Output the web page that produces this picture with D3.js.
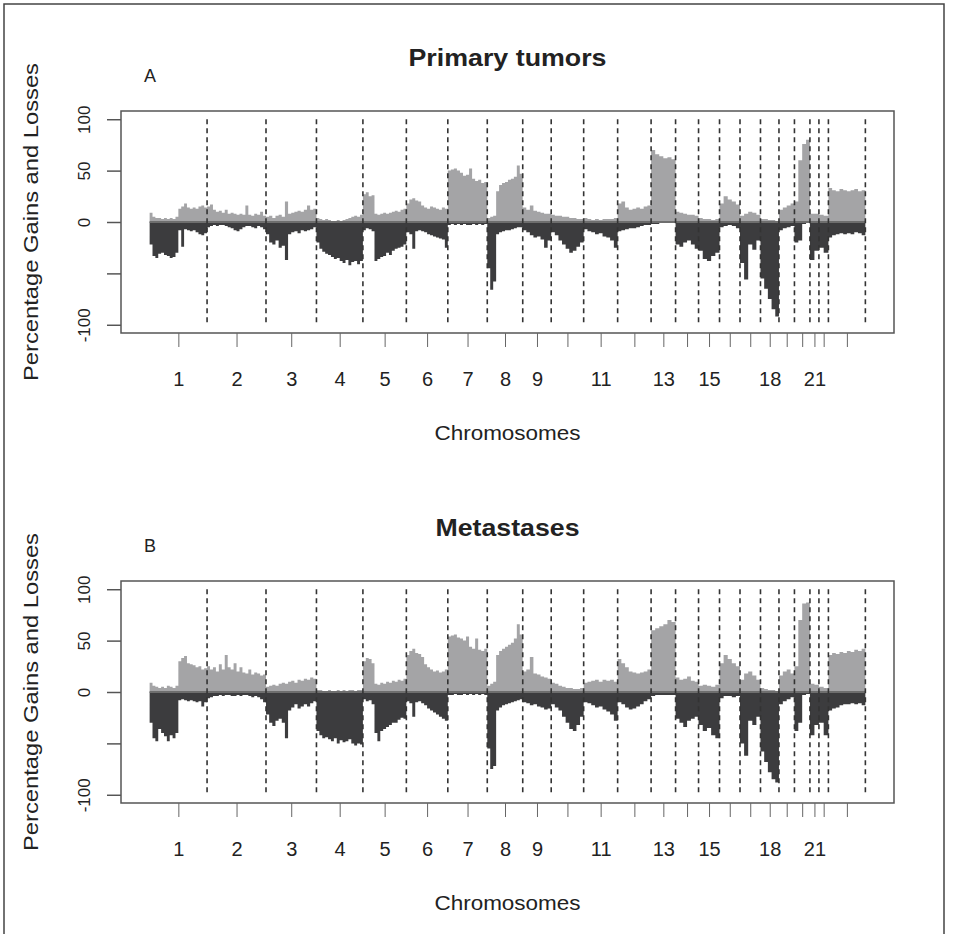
<!DOCTYPE html>
<html>
<head>
<meta charset="utf-8">
<script src="https://cdn.jsdelivr.net/npm/d3@7/dist/d3.min.js"></script>
<style>
body{margin:0;background:#fff}
svg text{font-family:"Liberation Sans",Arial,sans-serif;fill:#222}
</style>
</head>
<body>
<svg id="chart" width="954" height="934"></svg>
<script>
// chromosomes and number of clones on the array for each one
var chromosomes = ["1","2","3","4","5","6","7","8","9","10","11","12","13","14","15","16","17","18","19","20","21","22","X"]
var cloneCounts = [115,118,101,93,87,83,79,71,57,65,68,67,49,46,42,41,41,37,31,31,18,19,74]
// labels R managed to print under the ticks
var tickLabels = ["1","2","3","4","5","6","7","8","9","11","13","15","18","21"]
var yTicks = [-100,-50,0,50,100]
var yTickLabels = ["-100","","0","50","100"]

// percentage of gains / losses along each chromosome
var primaryGains = [
  [9,5,4,4,3,4,3,4,3,5,13,15,18,14,13,14,13,15,16,14],
  [15,17,12,10,11,9,12,8,9,8,7,8,7,16,7,6,8,7,10,6],
  [5,6,4,6,7,5,20,8,9,10,11,10,12,16,12,13],
  [4,3,2,3,2,1,1,2,1,2,3,4,5,6,5,7],
  [27,29,25,26,8,7,8,9,8,9,10,11,10,12,13],
  [18,22,23,21,20,16,14,13,15,14,13,12,14,13],
  [50,51,52,50,48,45,46,52,42,40,41,38,39],
  [4,5,6,30,36,38,39,41,42,44,55,47],
  [14,12,16,11,10,9,8,8],
  [7,6,6,5,5,4,4,3,3],
  [4,3,2,3,2,3,3,3,4],
  [18,20,14,12,13,14,13,15,16],
  [70,66,64,62,63,61],
  [10,9,8,7,7,6],
  [4,3,3,2,3],
  [18,25,22,20,17],
  [6,8,10,9,7],
  [3,3,2,2,1],
  [12,14,16,18],
  [20,60,76,80],
  [8,8],
  [7,6],
  [33,31,30,32,31,30,31,32,30,31]
]
var primaryLosses = [
  [-22,-33,-35,-31,-30,-32,-33,-35,-34,-30,-8,-24,-7,-8,-9,-8,-10,-12,-13,-11],
  [-5,-4,-3,-4,-3,-3,-4,-5,-6,-8,-9,-7,-5,-4,-4,-5,-6,-4,-5,-7],
  [-12,-20,-22,-18,-25,-23,-37,-12,-10,-9,-11,-8,-9,-8,-7,-5],
  [-20,-26,-29,-31,-32,-34,-36,-35,-38,-40,-37,-42,-39,-38,-41,-38],
  [-8,-6,-7,-9,-38,-36,-34,-33,-30,-32,-28,-26,-25,-24,-22],
  [-10,-12,-26,-9,-8,-9,-10,-12,-13,-14,-15,-16,-17,-25],
  [-3,-2,-3,-2,-3,-2,-3,-3,-2,-3,-2,-3,-2],
  [-45,-66,-58,-12,-10,-9,-8,-8,-7,-6,-5,-5],
  [-8,-10,-13,-15,-14,-17,-25,-18],
  [-10,-13,-18,-22,-26,-30,-28,-24,-20],
  [-7,-9,-10,-12,-11,-14,-15,-18,-25],
  [-9,-8,-7,-6,-6,-5,-4,-3,-3],
  [-2,-2,-1,-1,-1,-1],
  [-22,-24,-20,-18,-22,-26],
  [-28,-36,-38,-33,-30],
  [-5,-4,-3,-4,-6],
  [-40,-56,-22,-27,-18],
  [-55,-65,-75,-85,-92],
  [-8,-6,-5,-4],
  [-20,-18,-2,-1],
  [-37,-28],
  [-25,-30],
  [-15,-13,-12,-11,-12,-11,-12,-10,-11,-13]
]
var metaGains = [
  [9,6,5,4,5,4,6,5,4,6,30,33,35,28,27,26,24,25,22,23],
  [25,22,24,20,27,22,36,24,22,28,20,24,19,18,22,17,19,18,16,17],
  [5,6,7,6,8,9,8,10,11,9,12,11,13,12,14,13],
  [2,2,1,1,2,1,1,2,1,2,1,2,2,1,2,2],
  [30,33,32,28,8,7,9,8,10,9,11,10,12,11,13],
  [36,40,42,38,37,34,27,24,22,20,21,19,20,22],
  [54,55,56,53,52,50,54,44,42,52,41,40,42],
  [6,8,10,36,40,42,44,46,48,52,66,56],
  [20,22,34,18,17,15,14,13],
  [9,8,6,5,4,4,3,3,4],
  [9,10,11,12,10,12,11,12,10],
  [32,28,24,20,19,18,19,20,22],
  [60,62,64,66,70,68],
  [14,12,13,15,11,10],
  [6,7,6,5,7],
  [28,36,32,28,25],
  [12,18,20,16,12],
  [4,3,2,2,1],
  [16,20,22,18],
  [25,70,86,87],
  [8,7],
  [5,4],
  [36,38,37,39,38,40,39,41,40,42]
]
var metaLosses = [
  [-30,-45,-48,-36,-40,-43,-48,-42,-45,-40,-8,-7,-8,-9,-8,-9,-10,-9,-14,-10],
  [-6,-5,-4,-4,-3,-4,-3,-3,-4,-4,-3,-4,-3,-3,-4,-5,-4,-5,-7,-10],
  [-22,-30,-33,-28,-26,-30,-45,-18,-15,-12,-16,-14,-12,-14,-11,-9],
  [-38,-42,-45,-44,-46,-48,-45,-50,-47,-49,-48,-46,-50,-52,-50,-51],
  [-7,-9,-8,-12,-40,-48,-38,-36,-34,-32,-30,-30,-27,-25,-26],
  [-9,-11,-24,-10,-9,-11,-13,-16,-18,-20,-22,-24,-26,-28],
  [-3,-3,-2,-3,-3,-2,-3,-2,-3,-2,-3,-2,-3],
  [-55,-75,-72,-18,-15,-13,-12,-11,-10,-9,-8,-7],
  [-10,-11,-13,-12,-14,-15,-17,-16],
  [-12,-15,-18,-24,-30,-36,-38,-32,-24],
  [-10,-11,-13,-15,-14,-17,-19,-22,-28],
  [-10,-12,-15,-17,-16,-14,-12,-9,-7],
  [-4,-3,-3,-3,-3,-3],
  [-26,-30,-34,-28,-26,-24],
  [-32,-38,-35,-42,-45],
  [-6,-4,-4,-5,-4],
  [-50,-62,-28,-32,-24],
  [-58,-68,-78,-85,-88],
  [-12,-9,-7,-5],
  [-38,-30,-3,-2],
  [-42,-32],
  [-30,-42],
  [-18,-16,-15,-13,-12,-12,-11,-12,-11,-13]
]

var svg = d3.select("#chart")
var plotLeft = 121, plotRight = 894, plotH = 222

var panels = [
  {title:"Primary tumors", titleWidth:198, letter:"A", top:111, gains:primaryGains, losses:primaryLosses},
  {title:"Metastases", titleWidth:144, letter:"B", top:581, gains:metaGains, losses:metaLosses}
]

var starts = [0]
cloneCounts.forEach(function(n,i){ starts.push(starts[i]+n) })
var total = starts[starts.length-1]
var mids = cloneCounts.map(function(n,i){ return starts[i]+n/2 })

// R style 4% extension of the range
var x = d3.scaleLinear()
  .domain([-total*0.04, total*1.04])
  .range([plotLeft, plotRight])

// turn per-chromosome value lists into step points
var stepPoints = function(series)
{
  var pts = []
  series.forEach(function(vals,i){
    var n = cloneCounts[i], s = starts[i], k = vals.length
    vals.forEach(function(v,j){
      pts.push({pos:s+n*j/k, v:v})
      pts.push({pos:s+n*(j+1)/k, v:v})
    })
  })
  return pts
}

// outer frame of the figure
svg.append("path")
  .attr("d","M4,934V4H944V934")
  .attr("fill","none")
  .attr("stroke","#444")
  .attr("stroke-width",1.5)

panels.forEach(function(p)
{
  var y = d3.scaleLinear()
    .domain([-108,108])
    .range([p.top+plotH, p.top])

  var g = svg.append("g")

  var area = d3.area()
    .x(function(d){ return x(d.pos) })
    .y0(y(0))
    .y1(function(d){ return y(d.v) })

  g.append("path")
    .datum(stepPoints(p.gains))
    .attr("d",area)
    .attr("fill","#a4a4a6")

  g.append("path")
    .datum(stepPoints(p.losses))
    .attr("d",area)
    .attr("fill","#3c3c3e")

  // zero line
  g.append("line")
    .attr("x1",x(0)).attr("x2",x(total))
    .attr("y1",y(0)).attr("y2",y(0))
    .attr("stroke","#6e6e6e")
    .attr("stroke-width",2)

  // chromosome borders
  g.selectAll(".border")
    .data(starts.slice(1))
    .enter()
    .append("line")
    .attr("class","border")
    .attr("x1",function(d){ return x(d) })
    .attr("x2",function(d){ return x(d) })
    .attr("y1",y(100))
    .attr("y2",y(-100))
    .attr("stroke","#333")
    .attr("stroke-width",1.6)
    .attr("stroke-dasharray","5,4")

  // box
  g.append("rect")
    .attr("x",plotLeft).attr("y",p.top)
    .attr("width",plotRight-plotLeft).attr("height",plotH)
    .attr("fill","none")
    .attr("stroke","#555")
    .attr("stroke-width",1.5)

  // y axis
  var yAxis = g.append("g")
    .attr("transform","translate("+plotLeft+",0)")
    .call(d3.axisLeft(y).tickValues(yTicks).tickSize(14)
      .tickFormat(function(d,i){ return yTickLabels[i] }))
  yAxis.select(".domain").remove()
  yAxis.selectAll(".tick line").attr("stroke","#555").attr("stroke-width",1.5)
  yAxis.selectAll(".tick text")
    .attr("x",null).attr("dy",null)
    .attr("transform","translate(-31,0) rotate(-90)")
    .attr("text-anchor","middle")
    .style("font-size","17px")
    .attr("fill","#222")

  // x axis
  var xAxis = g.append("g")
    .attr("transform","translate(0,"+(p.top+plotH)+")")
    .call(d3.axisBottom(x).tickValues(mids).tickSize(14)
      .tickFormat(function(d,i){ return tickLabels.indexOf(chromosomes[i])>=0 ? chromosomes[i] : "" }))
  xAxis.select(".domain").remove()
  xAxis.selectAll(".tick line").attr("stroke","#666").attr("stroke-width",1)
  xAxis.selectAll(".tick text")
    .attr("y",53).attr("dy",null)
    .style("font-size","20px")
    .attr("fill","#222")

  // titles and labels
  g.append("text")
    .attr("x",(plotLeft+plotRight)/2)
    .attr("y",p.top-45)
    .attr("text-anchor","middle")
    .style("font-size","24px")
    .style("font-weight","bold")
    .attr("textLength",p.titleWidth)
    .attr("lengthAdjust","spacingAndGlyphs")
    .text(p.title)

  g.append("text")
    .attr("x",144)
    .attr("y",p.top-29)
    .style("font-size","18px")
    .text(p.letter)

  g.append("text")
    .attr("x",(plotLeft+plotRight)/2)
    .attr("y",p.top+329)
    .attr("text-anchor","middle")
    .style("font-size","20px")
    .attr("textLength",146)
    .attr("lengthAdjust","spacingAndGlyphs")
    .text("Chromosomes")

  g.append("text")
    .attr("transform","translate(38,"+(p.top+plotH/2)+") rotate(-90)")
    .attr("text-anchor","middle")
    .style("font-size","21px")
    .attr("textLength",318)
    .attr("lengthAdjust","spacingAndGlyphs")
    .text("Percentage Gains and Losses")
})
</script>
</body>
</html>
